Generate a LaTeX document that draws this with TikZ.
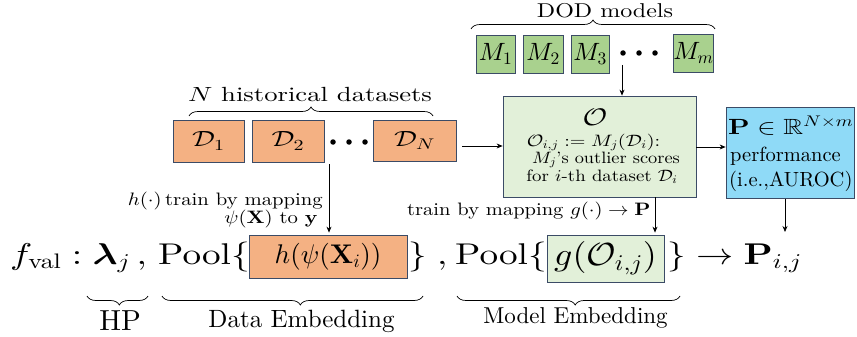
\documentclass[tikz,border=0pt]{standalone}
\usepackage{amsmath,amssymb}
\usepackage{graphicx}
\usepackage[no-math]{fontspec}
\setmainfont{lmroman10-regular.otf}[ItalicFont=lmroman10-italic.otf, BoldFont=lmroman10-bold.otf]
\DeclareFontShape{OT1}{cmr}{m}{n}{<->cmr10}{}
\DeclareFontShape{OT1}{cmr}{bx}{n}{<->cmbx10}{}
\DeclareFontShape{OML}{cmm}{m}{it}{<->cmmi10}{}
\DeclareFontShape{OML}{cmm}{b}{it}{<->cmmib10}{}
\DeclareFontShape{OMS}{cmsy}{m}{n}{<->cmsy10}{}
\DeclareFontShape{OMS}{cmsy}{b}{n}{<->cmbsy10}{}
\DeclareFontShape{OMX}{cmex}{m}{n}{<->cmex10}{}
\DeclareFontFamily{U}{msb}{}
\DeclareFontShape{U}{msb}{m}{n}{<->msbm10}{}
\usetikzlibrary{decorations.pathreplacing,arrows.meta}
\definecolor{orangef}{HTML}{F4B183}
\definecolor{greenf}{HTML}{A9D18E}
\definecolor{lgreenf}{HTML}{E2F0D9}
\definecolor{bluef}{HTML}{8FDAF7}
\definecolor{edgec}{HTML}{3B4B66}
\newcommand\fsz[1]{\fontsize{#1}{#1}\selectfont}
\newcommand\sx[2]{\scalebox{#1}[1]{#2}}
\begin{document}
\begin{tikzpicture}[x=1pt,y=-1pt,
  box/.style={draw=edgec, line width=0.8pt, inner sep=0pt},
  lbl/.style={inner sep=0pt, anchor=base},
  lblw/.style={inner sep=0pt, anchor=base west},
  lble/.style={inner sep=0pt, anchor=base east},
  arr/.style={-{Stealth[length=6pt,width=5pt]}, line width=0.7pt},
  brc/.style={decorate, decoration={brace, amplitude=9pt}, line width=0.7pt},
  brcb/.style={decorate, decoration={brace, amplitude=9pt, aspect=0.47}, line width=0.7pt},
  dot/.style={circle, fill=black, inner sep=0pt, minimum size=5.5pt},
]
\useasboundingbox (0,0) rectangle (857,337);

% ---- DOD models ----
\draw[brc] (471,29) -- (715,29);
\node[lbl] (dodt) at (605,18) {\fsz{20}\sx{1.2}{DOD models}};
\node[box, fill=greenf, minimum width=39pt, minimum height=38pt] (m1) at (495.5,54) {\fsz{25}$M_1$};
\node[box, fill=greenf, minimum width=40pt, minimum height=38pt] (m2) at (543,54) {\fsz{25}$M_2$};
\node[box, fill=greenf, minimum width=38pt, minimum height=38pt] (m3) at (590,54) {\fsz{25}$M_3$};
\node[dot] (md1) at (623,53) {};
\node[dot] (md2) at (639,53) {};
\node[dot] (md3) at (655,53) {};
\node[box, fill=greenf, minimum width=39pt, minimum height=38pt] (mm) at (693.5,53) {\fsz{25}$M_m$};

% ---- datasets ----
\draw[brc] (189,116) -- (433,116);
\node[lbl] (dst) at (310,102) {\fsz{20.5}\sx{1.3}{$N$ historical datasets}};
\node[box, fill=orangef, minimum width=71pt, minimum height=42pt] (d1) at (208.5,141) {\fsz{22}\sx{1.3}{$\mathcal{D}_1$}};
\node[box, fill=orangef, minimum width=72pt, minimum height=42pt] (d2) at (288,141) {\fsz{22}\sx{1.3}{$\mathcal{D}_2$}};
\node[dot] (dd1) at (333,142) {};
\node[dot] (dd2) at (349,142) {};
\node[dot] (dd3) at (365,142) {};
\node[box, fill=orangef, minimum width=83pt, minimum height=41pt] (dn) at (414.5,140.5) {\fsz{22}\sx{1.3}{$\mathcal{D}_N$}};

% ---- O box ----
\node[box, fill=lgreenf, minimum width=193pt, minimum height=101pt] (ob) at (599.5,146.5) {};
\node[lbl] (o1) at (595,125) {\fsz{24}\sx{1.25}{$\mathcal{O}$}};
\node[lbl] (o2) at (593.5,146) {\fsz{16.5}\sx{1.22}{$\mathcal{O}_{i,j} := M_j(\mathcal{D}_i)$:}};
\node[lbl] (o3) at (606,163.5) {\fsz{16.5}\sx{1.11}{$M_j$'s outlier scores}};
\node[lbl] (o4) at (602,181.5) {\fsz{16.5}\sx{1.14}{for $i$-th dataset $\mathcal{D}_i$}};

% ---- P box ----
\node[box, fill=bluef, minimum width=128pt, minimum height=91pt] (pb) at (790,152.5) {};
\node[lblw] (p1) at (728,134) {\fsz{22}\sx{1.25}{$\mathbf{P}\in\mathbb{R}^{N\times m}$}};
\node[lblw] (p2) at (730,161) {\fsz{20.5}performance};
\node[lblw] (p3) at (729,186) {\fsz{20.5}(i.e.,AUROC)};

% ---- main formula ----
\node[lblw] (fv) at (10,264) {\fsz{30}\sx{1.24}{$f_{\mathrm{val}}:\boldsymbol{\lambda}_j\,,$}};
\node[lblw] (pool1) at (158,264) {\fsz{30}\sx{1.24}{Pool$\{$}};
\node[box, fill=orangef, minimum width=158pt, minimum height=43pt] (hb) at (328,256.5) {\fsz{27}$h(\psi(\mathbf{X}_i))$};
\node[lblw] (rb1) at (408,264) {\fsz{30}\sx{1.24}{$\}\;,$}};
\node[lblw] (pool2) at (455,264) {\fsz{30}\sx{1.24}{Pool$\{$}};
\node[box, fill=lgreenf, minimum width=117pt, minimum height=47pt] (gb) at (605.5,258.5) {\fsz{32}\sx{1.12}{$g(\mathcal{O}_{i,j})$}};
\node[lblw] (res) at (667,264) {\fsz{30}\sx{1.24}{$\}\rightarrow\mathbf{P}_{i,j}$}};

% ---- side labels ----
\node[lble] (hl1) at (323,205) {\fsz{18}\sx{1.15}{$h(\cdot)$\,train by mapping}};
\node[lble] (hl2) at (318,223) {\fsz{18}\sx{1.15}{$\psi(\mathbf{X})$ to $\mathbf{y}$}};
\node[lblw] (gl) at (407,215) {\fsz{18}\sx{1.14}{train by mapping $g(\cdot)\rightarrow\mathbf{P}$}};

% ---- bottom braces ----
\draw[brcb] (148,296) -- (87,296);
\node[lbl] (hp) at (120,330) {\fsz{29}HP};
\draw[brcb] (423,296) -- (162,296);
\node[lbl] (de) at (301.5,327) {\fsz{25}Data Embedding};
\draw[brcb] (680,296) -- (457,296);
\node[lbl] (me) at (575.5,323) {\fsz{23}Model Embedding};

% ---- arrows ----
\coordinate (c1) at (462,146);
\draw[arr] (c1) -- (c1 -| ob.west);
\coordinate (c2) at (696,147);
\draw[arr] (c2) -- (c2 -| pb.west);
\coordinate (c3) at (622,65);
\draw[arr] (c3) -- (c3 |- ob.north);
\coordinate (c4) at (329,164);
\draw[arr, shorten >=2pt] (c4) -- (c4 |- hb.north);
\coordinate (c5) at (655,197);
\draw[arr, shorten >=2pt] (c5) -- (c5 |- gb.north);
\coordinate (c6) at (785,199);
\coordinate (c7) at (785,232);
\draw[arr] (c6) -- (c7);
\end{tikzpicture}
\end{document}
